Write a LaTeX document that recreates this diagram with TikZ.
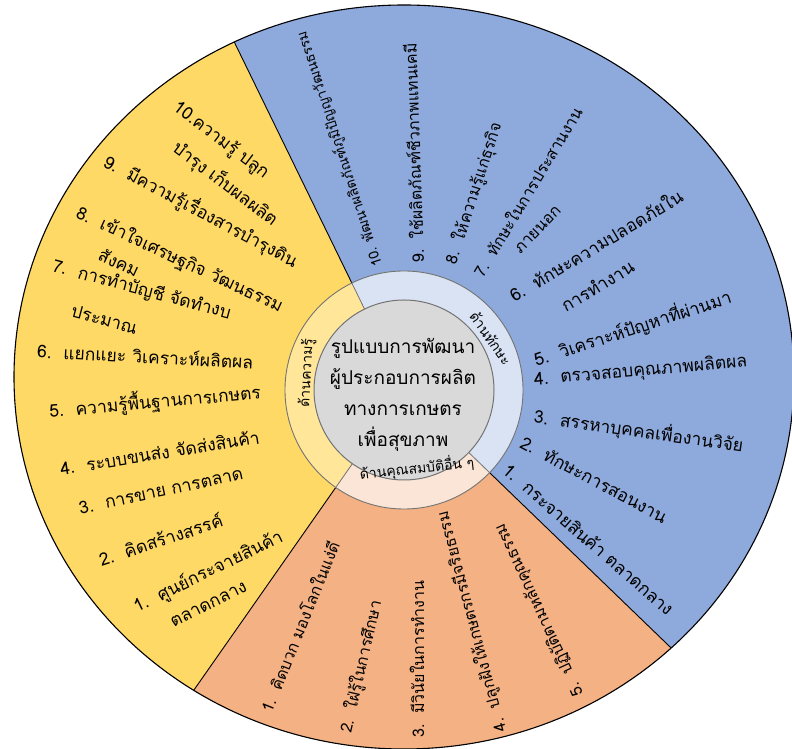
\documentclass[tikz,border=0pt]{standalone}
\usepackage{fontspec}
\newfontfamily\thaifont[Script=Thai]{Loma}
\definecolor{ffdzgg}{rgb}{1.,0.851,0.4}
\definecolor{oiaadb}{rgb}{0.557,0.663,0.859}
\definecolor{fobbie}{rgb}{0.957,0.694,0.514}
\definecolor{ffeezz}{rgb}{1.,0.902,0.6}
\definecolor{ddeeff}{rgb}{0.855,0.89,0.953}
\definecolor{ffeedd}{rgb}{0.984,0.898,0.839}
\definecolor{dddddd}{rgb}{0.851,0.851,0.851}
\definecolor{sssss}{rgb}{0.45,0.45,0.45}
\begin{document}
\begin{tikzpicture}[x=1pt,y=1pt,line join=round,
  lbl/.style={font=\thaifont\fontsize{17.5}{33}\selectfont,anchor=west,inner sep=0pt,align=left},
  vlbl/.style={lbl,font=\thaifont\fontsize{16}{30}\selectfont},
  ringlbl/.style={font=\thaifont\fontsize{14}{16}\selectfont,inner sep=0pt},
  spoke/.style={color=black,line width=0.9pt}]
\useasboundingbox (0,0) rectangle (792,749);
\begin{scope}
\clip (404,372) ellipse [x radius=390pt, y radius=372pt];
\fill[oiaadb] (0,0) rectangle (792,749);
\fill[ffdzgg,shift={(404,359)}] (0,0) -- (116:900) -- (180:900) -- (235:900) -- cycle;
\fill[fobbie,shift={(404,359)}] (0,0) -- (235:900) -- (270:900) -- (316:900) -- cycle;
\foreach \a in {116,235,316}
\draw[spoke,shift={(404,359)}] (\a:90) -- (\a:900);
\end{scope}
\draw[color=black,line width=1.1pt] (404,372) ellipse [x radius=390pt, y radius=372pt];
% ring
\begin{scope}[shift={(404,359)}]
\fill[ffeezz] (0,0) -- (116:119) arc[start angle=116, end angle=235, radius=119pt] -- cycle;
\fill[ddeeff] (0,0) -- (-44:119) arc[start angle=-44, end angle=116, radius=119pt] -- cycle;
\fill[ffeedd] (0,0) -- (235:119) arc[start angle=235, end angle=316, radius=119pt] -- cycle;
\foreach \a in {116,235,316}
\draw[color=sssss,line width=0.8pt] (\a:90) -- (\a:119);
\draw[color=sssss,line width=0.9pt] (0,0) circle (119pt);
\draw[color=sssss,line width=1pt,fill=dddddd] (0,0) circle (90pt);
\end{scope}
\node (core) at (403,354) [font=\thaifont\fontsize{19}{31}\selectfont,align=center,inner sep=0pt] {รูปแบบการพัฒนา\\ผู้ประกอบการผลิต\\ทางการเกษตร\\เพื่อสุขภาพ};
\node (rknow) at (307,376) [ringlbl,rotate=87] {ด้านความรู้};
\node (rskill) at (491,411) [ringlbl,rotate=-55] {ด้านทักษะ};
\node (rother) at (417,281) [ringlbl,rotate=6] {ด้านคุณสมบัติอื่น ๆ};
% skills
\node (b10) at (378,482.5) [vlbl,font=\thaifont\fontsize{14}{28}\selectfont,rotate=108] {10. พัฒนาผลิตภัณฑ์ภูมิปัญญาวัฒนธรรม};
\node (b9) at (417,486) [vlbl,rotate=92] {9.~~ใช้ผลิตภัณฑ์ชีวภาพแทนเคมี};
\node (b8) at (451,485) [vlbl,rotate=72] {8.~~ให้ความรู้แก่ธุรกิจ};
\node (b7) at (477,474) [vlbl,rotate=59] {7.~~ทักษะในการประสานงาน};
\node (b7b) at (538,519) [vlbl,anchor=center,rotate=46] {ภายนอก};
\node (b6) at (519.4,437.7) [lbl,rotate=31] {6.~~ทักษะความปลอดภัยใน\\[2pt]\hspace*{39pt}การทำงาน};
\node (b5) at (534,389) [lbl,rotate=18] {5.~~วิเคราะห์ปัญหาที่ผ่านมา};
\node (b4) at (534,368.5) [lbl,rotate=5] {4.~~ตรวจสอบคุณภาพผลิตผล};
\node (b3) at (534,333) [lbl,rotate=-8] {3.~~สรรหาบุคคลเพื่องานวิจัย};
\node (b2) at (522,308) [lbl,rotate=-28] {2.~~ทักษะการสอนงาน};
\node (b1) at (506,282) [lbl,rotate=-41] {1.~~กระจายสินค้า ตลาดกลาง};
% knowledge
\node (y10) at (165,630) [lbl,rotate=-37] {10.ความรู้ ปลูก\\\phantom{10.}บำรุง เก็บผลผลิต};
\node (y9) at (105,589) [lbl,rotate=-28] {9.~~มีความรู้เรื่องสารบำรุงดิน};
\node (y8) at (71.8,525.8) [lbl,rotate=-25] {8.~~เข้าใจเศรษฐกิจ วัฒนธรรม\\[-4pt]\hspace*{38pt}สังคม};
\node (y7) at (48,466) [lbl,rotate=-15] {7.~~การทำบัญชี จัดทำงบ\\[6pt]\hspace*{30pt}ประมาณ};
\node (y6) at (37,399) [lbl,rotate=-3] {6.~~แยกแยะ วิเคราะห์ผลิตผล};
\node (y5) at (49,338.5) [lbl,rotate=5] {5.~~ความรู้พื้นฐานการเกษตร};
\node (y4) at (60,281) [lbl,rotate=9] {4.~~ระบบขนส่ง จัดส่งสินค้า};
\node (y3) at (79,241) [lbl,rotate=12] {3.~~การขาย การตลาด};
\node (y2) at (99,190) [lbl,rotate=18] {2.~~คิดสร้างสรรค์};
\node (y1) at (140,130) [lbl,rotate=26,font=\thaifont\fontsize{17.5}{29}\selectfont] {1.~~ศูนย์กระจายสินค้า\\\phantom{1.~~}ตลาดกลาง};
% other qualities
\node (o1) at (265,37.5) [vlbl,rotate=68] {1.~~คิดบวก มองโลกในแง่ดี};
\node (o2) at (346,16) [vlbl,rotate=77] {2.~~ใฝ่รู้ในการศึกษา};
\node (o3) at (417,11) [vlbl,rotate=90] {3.~~มีวินัยในการทำงาน};
\node (o4) at (501.5,17) [vlbl,rotate=105] {4.~~ปลูกฝังให้เกษตรกรมีจริยธรรม};
\node (o5) at (579.5,53.5) [vlbl,rotate=115] {5.~~ปฏิบัติตามหลักคุณธรรม};
\end{tikzpicture}
\end{document}
